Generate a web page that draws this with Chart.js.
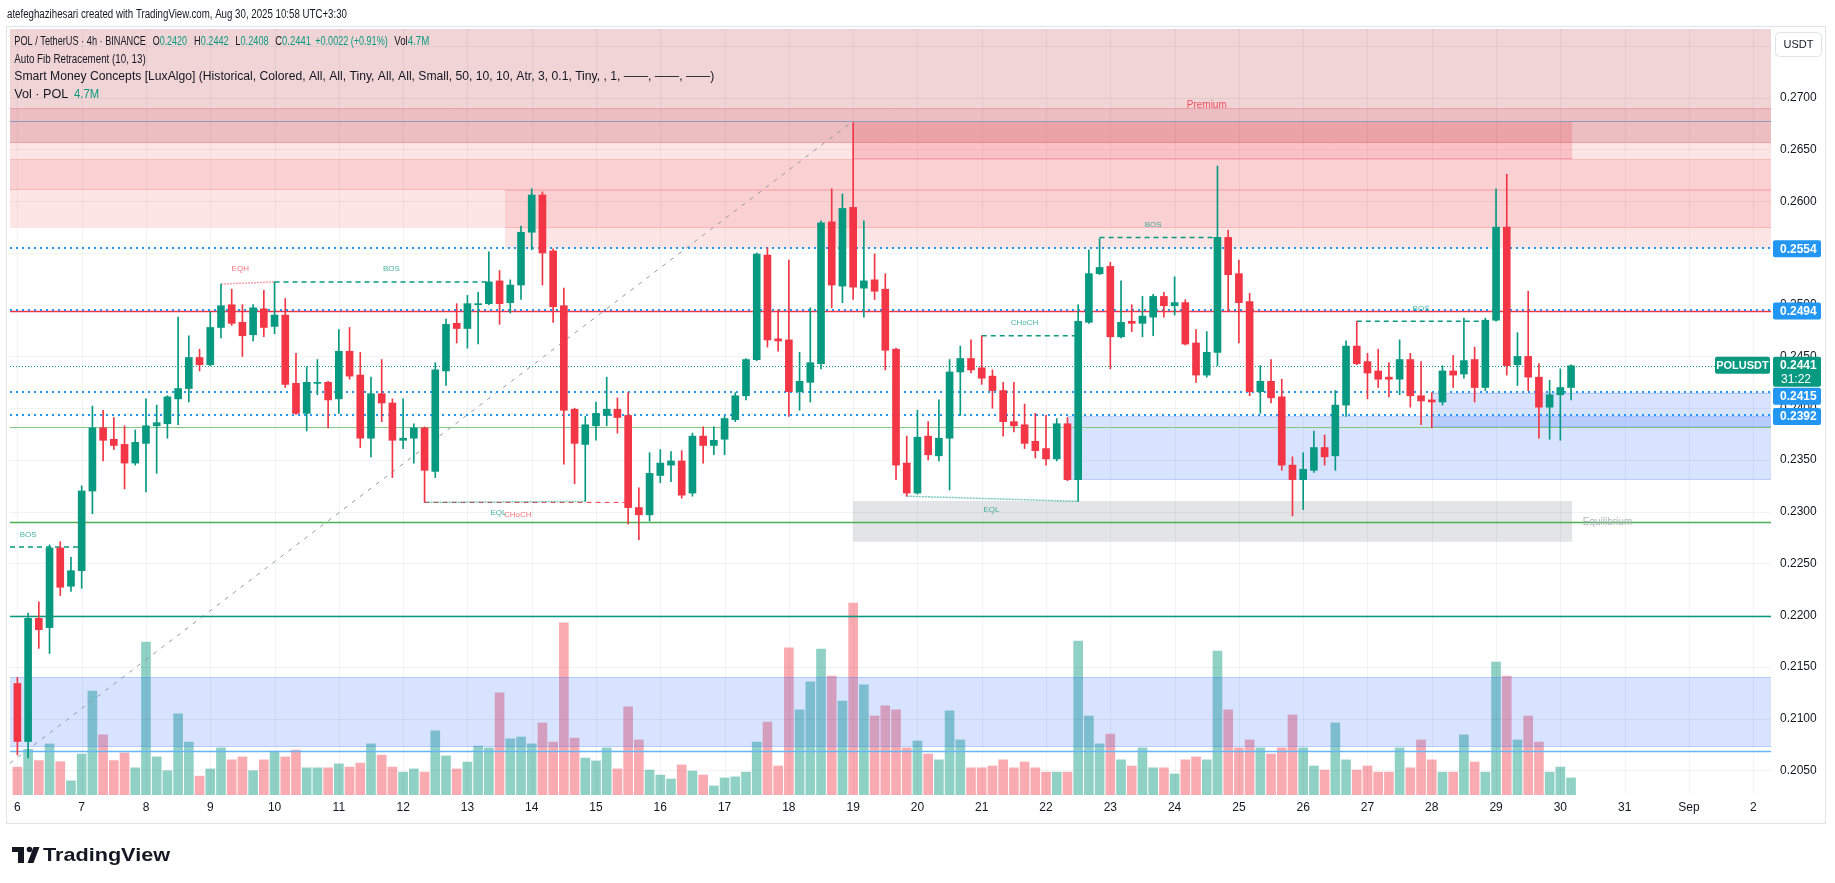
<!DOCTYPE html>
<html>
<head>
<meta charset="utf-8">
<script src="https://cdn.jsdelivr.net/npm/chart.js@4.4.1/dist/chart.umd.min.js"></script>
<style>
  html, body { margin: 0; padding: 0; background: #fff; }
  canvas { display: block; }
</style>
</head>
<body>
<canvas id="chart" width="1835" height="883" style="width:1835px;height:883px"></canvas>
<script>
// POL / TetherUS 4h candles, Aug 6 -> Aug 30
const openPrices = [
  0.2134,0.2078,0.2197,0.2188,0.2265,0.2228,0.2243,0.2320,0.2381,0.2370,
  0.2365,0.2347,0.2366,0.2383,0.2385,0.2409,0.2419,0.2449,0.2442,0.2478,
  0.2500,0.2483,0.2471,0.2496,0.2479,0.2490,0.2424,0.2395,0.2424,0.2425,
  0.2409,0.2455,0.2432,0.2371,0.2414,0.2405,0.2369,0.2371,0.2381,0.2339,
  0.2436,0.2482,0.2477,0.2500,0.2501,0.2523,0.2502,0.2519,0.2570,0.2606,
  0.2552,0.2499,0.2399,0.2365,0.2383,0.2393,0.2399,0.2393,0.2304,0.2297,
  0.2335,0.2345,0.2349,0.2318,0.2373,0.2364,0.2370,0.2389,0.2412,0.2447,
  0.2548,0.2467,0.2466,0.2416,0.2425,0.2443,0.2580,0.2518,0.2594,0.2516,
  0.2524,0.2515,0.2457,0.2347,0.2318,0.2373,0.2354,0.2371,0.2435,0.2448,
  0.2439,0.2431,0.2417,0.2387,0.2384,0.2368,0.2361,0.2351,0.2385,0.2331,
  0.2483,0.2530,0.2537,0.2469,0.2484,0.2482,0.2488,0.2508,0.2499,0.2502,
  0.2463,0.2432,0.2454,0.2565,0.2530,0.2503,0.2416,0.2426,0.2411,0.2345,
  0.2331,0.2340,0.2362,0.2354,0.2403,0.2460,0.2445,0.2436,0.2430,0.2428,
  0.2447,0.2412,0.2408,0.2406,0.2436,0.2433,0.2447,0.2420,0.2485,0.2575,
  0.2442,0.2450,0.2430,0.2401,0.2413,0.2420
];
const highPrices = [
  0.2140,0.2202,0.2213,0.2268,0.2271,0.2256,0.2325,0.2402,0.2398,0.2391,
  0.2383,0.2379,0.2409,0.2403,0.2412,0.2488,0.2470,0.2457,0.2493,0.2520,
  0.2515,0.2500,0.2500,0.2514,0.2522,0.2506,0.2453,0.2440,0.2447,0.2426,
  0.2476,0.2478,0.2454,0.2430,0.2447,0.2409,0.2409,0.2385,0.2382,0.2444,
  0.2486,0.2501,0.2509,0.2512,0.2551,0.2533,0.2524,0.2576,0.2612,0.2609,
  0.2554,0.2516,0.2400,0.2392,0.2406,0.2430,0.2410,0.2415,0.2323,0.2357,
  0.2360,0.2358,0.2359,0.2376,0.2382,0.2382,0.2392,0.2415,0.2448,0.2550,
  0.2555,0.2495,0.2543,0.2454,0.2497,0.2581,0.2612,0.2607,0.2676,0.2581,
  0.2549,0.2530,0.2458,0.2373,0.2398,0.2387,0.2408,0.2447,0.2460,0.2466,
  0.2470,0.2437,0.2425,0.2425,0.2404,0.2395,0.2393,0.2390,0.2391,0.2500,
  0.2553,0.2564,0.2541,0.2523,0.2500,0.2508,0.2510,0.2512,0.2527,0.2505,
  0.2476,0.2474,0.2634,0.2572,0.2543,0.2511,0.2441,0.2447,0.2428,0.2353,
  0.2357,0.2378,0.2374,0.2417,0.2465,0.2484,0.2453,0.2457,0.2444,0.2466,
  0.2453,0.2445,0.2415,0.2441,0.2451,0.2487,0.2459,0.2487,0.2612,0.2626,
  0.2473,0.2513,0.2443,0.2427,0.2438,0.2442
];
const lowPrices = [
  0.2065,0.2062,0.2168,0.2163,0.2219,0.2223,0.2226,0.2298,0.2349,0.2360,
  0.2322,0.2345,0.2319,0.2337,0.2371,0.2384,0.2406,0.2436,0.2441,0.2468,
  0.2480,0.2450,0.2465,0.2469,0.2472,0.2420,0.2394,0.2378,0.2413,0.2381,
  0.2395,0.2428,0.2362,0.2353,0.2387,0.2333,0.2361,0.2347,0.2309,0.2333,
  0.2422,0.2463,0.2458,0.2462,0.2500,0.2481,0.2492,0.2505,0.2553,0.2519,
  0.2483,0.2346,0.2327,0.2310,0.2369,0.2383,0.2376,0.2288,0.2273,0.2291,
  0.2328,0.2329,0.2313,0.2315,0.2347,0.2355,0.2355,0.2387,0.2408,0.2446,
  0.2459,0.2455,0.2392,0.2398,0.2406,0.2438,0.2497,0.2502,0.2505,0.2488,
  0.2505,0.2437,0.2331,0.2315,0.2317,0.2350,0.2349,0.2321,0.2393,0.2434,
  0.2423,0.2400,0.2373,0.2377,0.2361,0.2352,0.2345,0.2349,0.2330,0.2310,
  0.2482,0.2529,0.2438,0.2468,0.2474,0.2469,0.2470,0.2488,0.2490,0.2461,
  0.2425,0.2430,0.2441,0.2494,0.2463,0.2412,0.2395,0.2405,0.2340,0.2296,
  0.2302,0.2338,0.2345,0.2340,0.2392,0.2442,0.2409,0.2420,0.2411,0.2413,
  0.2401,0.2384,0.2381,0.2403,0.2420,0.2429,0.2406,0.2417,0.2484,0.2432,
  0.2422,0.2417,0.2371,0.2370,0.2369,0.2408
];
const closePrices = [
  0.2078,0.2197,0.2186,0.2265,0.2227,0.2243,0.2320,0.2381,0.2369,0.2364,
  0.2347,0.2367,0.2383,0.2386,0.2411,0.2419,0.2449,0.2442,0.2478,0.2499,
  0.2482,0.2470,0.2497,0.2478,0.2490,0.2423,0.2395,0.2425,0.2425,0.2408,
  0.2455,0.2431,0.2371,0.2414,0.2405,0.2369,0.2371,0.2381,0.2340,0.2437,
  0.2481,0.2477,0.2501,0.2501,0.2522,0.2501,0.2519,0.2570,0.2606,0.2550,
  0.2498,0.2398,0.2366,0.2384,0.2395,0.2399,0.2391,0.2304,0.2297,0.2337,
  0.2347,0.2349,0.2316,0.2373,0.2364,0.2369,0.2390,0.2412,0.2447,0.2549,
  0.2466,0.2465,0.2416,0.2426,0.2444,0.2579,0.2519,0.2593,0.2517,0.2523,
  0.2513,0.2456,0.2345,0.2318,0.2372,0.2355,0.2371,0.2435,0.2448,0.2437,
  0.2429,0.2417,0.2387,0.2383,0.2366,0.2359,0.2351,0.2385,0.2331,0.2484,
  0.2530,0.2536,0.2469,0.2483,0.2482,0.2489,0.2508,0.2499,0.2502,0.2462,
  0.2432,0.2454,0.2565,0.2529,0.2502,0.2416,0.2426,0.2410,0.2345,0.2331,
  0.2341,0.2362,0.2353,0.2403,0.2460,0.2443,0.2434,0.2428,0.2428,0.2447,
  0.2412,0.2407,0.2406,0.2436,0.2432,0.2446,0.2420,0.2485,0.2575,0.2441,
  0.2450,0.2430,0.2401,0.2413,0.2420,0.2441
];
// volume in millions of POL
const volumes = [
  7.7,12.6,9.5,14.1,9.2,3.9,11.3,28.7,16.6,9.5,
  11.6,7.5,42.2,10.5,6.7,22.4,14.6,5.2,7.2,13.0,
  9.7,10.5,6.7,9.7,12.1,10.5,12.4,7.5,7.5,7.5,
  8.6,7.7,8.8,14.1,11.0,7.7,6.3,7.2,6.3,17.7,
  10.8,7.2,9.1,13.5,13.0,28.2,15.5,16.0,14.1,19.9,
  14.6,47.5,15.7,10.2,9.4,13.0,7.2,24.3,15.2,6.9,
  5.5,4.4,8.3,6.6,5.5,2.5,4.7,5.0,6.3,14.6,
  20.1,8.0,40.6,23.5,31.2,40.3,32.8,25.9,53.0,30.4,
  21.8,24.6,23.5,13.0,14.9,11.3,9.7,23.2,15.2,7.5,
  7.5,8.0,9.7,7.5,9.1,7.5,6.3,6.3,6.3,42.5,
  21.8,14.1,16.8,9.7,8.0,13.0,7.5,7.5,5.8,9.7,
  10.5,9.7,39.7,23.5,13.0,15.2,13.0,11.3,13.0,22.1,
  13.0,8.0,6.9,19.9,9.7,6.9,8.0,6.3,6.3,13.0,
  7.5,15.2,9.7,6.3,6.3,16.6,9.1,6.3,36.7,32.8,
  15.2,21.8,14.6,6.3,7.7,4.7
];
const dayLabels = ['6','7','8','9','10','11','12','13','14','15','16','17','18','19','20',
  '21','22','23','24','25','26','27','28','29','30','31','Sep','2'];
const candlesPerDay = 6;
const priceTicks = [0.2700,0.2650,0.2600,0.2550,0.2500,0.2450,0.2400,0.2350,0.2300,
  0.2250,0.2200,0.2150,0.2100,0.2050];
const gridPrices = [0.2750].concat(priceTicks);

// indicator levels
const fibLevels = [0.26775, 0.2494, 0.2382, 0.2290, 0.2199, 0.2069];
const fibColors = ['#8D9BBD', '#F23645', '#81C784', '#4CAF50', '#089981', '#64B5F6'];
const markedLevels = [0.2554, 0.2494, 0.2415, 0.2392];
const lastPrice = 0.2441;

const upColor = '#089981', downColor = '#F23645';
const X_MIN = -0.69, X_MAX = 163.66;

const zoneBoxes = [
  { from: X_MIN, to: X_MAX, top: 0.27664, bottom: 0.26900, fill: '#F0D4D6' },
  { from: X_MIN, to: X_MAX, top: 0.26900, bottom: 0.26562, fill: '#ECBEC1', edge: 'rgba(226,110,118,0.35)' },
  { from: X_MIN, to: X_MAX, top: 0.26562, bottom: 0.26405, fill: '#FDE5E6' },
  { from: X_MIN, to: X_MAX, top: 0.26405, bottom: 0.26108, fill: '#FAD0D2', edge: 'rgba(242,54,69,0.18)' },
  { from: X_MIN, to: 45.5, top: 0.26108, bottom: 0.25741, fill: '#FDE5E6' },
  { from: 45.5, to: X_MAX, top: 0.26108, bottom: 0.25741, fill: '#FAD0D2', edge: 'rgba(242,54,69,0.18)' },
  { from: 45.5, to: X_MAX, top: 0.25741, bottom: 0.25543, fill: '#FDE5E6' },
  { from: 78, to: 145.1, top: 0.26775, bottom: 0.26405, fill: 'rgba(242,54,69,0.2)', edge: 'rgba(242,54,69,0.25)' },
  { from: 78, to: 145.1, top: 0.23103, bottom: 0.22710, fill: '#E3E4E6' },
  { from: 98.05, to: X_MAX, top: 0.2392, bottom: 0.2331, fill: 'rgba(41,98,255,0.18)', edge: 'rgba(41,98,255,0.22)' },
  { from: 132, to: X_MAX, top: 0.2415, bottom: 0.2382, fill: 'rgba(41,98,255,0.18)', edge: 'rgba(41,98,255,0.22)' },
  { from: X_MIN, to: X_MAX, top: 0.2140, bottom: 0.2073, fill: 'rgba(41,98,255,0.18)', edge: 'rgba(41,98,255,0.25)' }
];

const structures = [
  { x0: X_MIN, x1: 5.7, p0: 0.2266, p1: 0.2266, kind: 'bos', text: 'BOS', lx: 1.0, dy: -12 },
  { x0: 19, x1: 24, p0: 0.2520, p1: 0.2522, kind: 'eqh', text: 'EQH', lx: 20.8, dy: -15 },
  { x0: 24, x1: 44, p0: 0.2522, p1: 0.2522, kind: 'bos', text: 'BOS', lx: 34.9, dy: -13 },
  { x0: 38, x1: 57, p0: 0.2309, p1: 0.2309, kind: 'choch-bear', text: 'CHoCH', lx: 46.7, dy: 12 },
  { x0: 38, x1: 53, p0: 0.2309, p1: 0.2310, kind: 'eql', text: 'EQL', lx: 44.9, dy: 10 },
  { x0: 90, x1: 99, p0: 0.2470, p1: 0.2470, kind: 'bos', text: 'CHoCH', lx: 94, dy: -13 },
  { x0: 83, x1: 99, p0: 0.2315, p1: 0.2310, kind: 'eql', text: 'EQL', lx: 90.9, dy: 14 },
  { x0: 101, x1: 112, p0: 0.2565, p1: 0.2565, kind: 'bos', text: 'BOS', lx: 106, dy: -13 },
  { x0: 125, x1: 137, p0: 0.2484, p1: 0.2484, kind: 'bos', text: 'BOS', lx: 131, dy: -12 }
];

const candleIdx = openPrices.map((_, i) => i);
const candleColors = candleIdx.map(i => closePrices[i] >= openPrices[i] ? upColor : downColor);
const volumeColors = candleIdx.map(i => closePrices[i] >= openPrices[i] ? 'rgba(8,153,129,0.45)' : 'rgba(242,54,69,0.42)');

const FONT = '"Liberation Sans", Arial, sans-serif';

function fitText(ctx, text, x, y, width, font, color, align) {
  ctx.font = font;
  ctx.fillStyle = color;
  ctx.textBaseline = 'middle';
  ctx.textAlign = 'left';
  const w = ctx.measureText(text).width;
  const k = width ? width / w : 1;
  ctx.save();
  let sx = x;
  if (align === 'center') sx = x - (w * k) / 2;
  ctx.translate(sx, y);
  ctx.scale(k, 1);
  ctx.fillText(text, 0, 0);
  ctx.restore();
}

function pair(ctx, a, b, x, y, width, colA, colB) {
  ctx.font = '12px ' + FONT;
  const wa = ctx.measureText(a).width, wb = ctx.measureText(b).width;
  const k = width / (wa + wb);
  fitText(ctx, a, x, y, wa * k, '12px ' + FONT, colA);
  fitText(ctx, b, x + wa * k, y, wb * k, '12px ' + FONT, colB);
}

function hLine(ctx, x0, x1, y, color, width, dash) {
  ctx.beginPath();
  ctx.strokeStyle = color;
  ctx.lineWidth = width;
  ctx.setLineDash(dash || []);
  ctx.moveTo(x0, y);
  ctx.lineTo(x1, y);
  ctx.stroke();
  ctx.setLineDash([]);
}

function drawZones(chart) {
  const ctx = chart.ctx, a = chart.chartArea;
  const X = v => chart.scales.x.getPixelForValue(v);
  const Y = v => chart.scales.y.getPixelForValue(v);
  ctx.save();
  ctx.beginPath();
  ctx.rect(a.left, a.top, a.right - a.left, a.bottom - a.top);
  ctx.clip();

  zoneBoxes.forEach(b => {
    const x0 = X(b.from), x1 = X(b.to), y0 = Y(b.top), y1 = Y(b.bottom);
    ctx.fillStyle = b.fill;
    ctx.fillRect(x0, y0, x1 - x0, y1 - y0);
    if (b.edge) {
      hLine(ctx, x0, x1, Math.round(y0) + 0.5, b.edge, 1);
      hLine(ctx, x0, x1, Math.round(y1) - 0.5, b.edge, 1);
    }
  });

  // grid
  ctx.strokeStyle = 'rgba(42,46,57,0.06)';
  ctx.lineWidth = 1;
  gridPrices.forEach(p => hLine(ctx, a.left, a.right, Math.round(Y(p)) + 0.5, 'rgba(42,46,57,0.06)', 1));
  dayLabels.forEach((_, d) => {
    const x = Math.round(X(d * candlesPerDay)) + 0.5;
    ctx.beginPath();
    ctx.strokeStyle = 'rgba(42,46,57,0.06)';
    ctx.moveTo(x, a.top);
    ctx.lineTo(x, a.bottom);
    ctx.stroke();
  });

  // fib diagonal
  ctx.beginPath();
  ctx.strokeStyle = '#9598A1';
  ctx.lineWidth = 1;
  ctx.setLineDash([4, 6]);
  ctx.moveTo(X(X_MIN), Y(0.2057));
  ctx.lineTo(X(78), Y(0.26775));
  ctx.stroke();
  ctx.setLineDash([]);

  // fib levels
  fibLevels.forEach((p, i) => {
    hLine(ctx, a.left, a.right, Math.round(Y(p)) + 0.5, fibColors[i], i === 0 || i === 2 ? 1 : 1.5);
  });
  // marked levels (blue dotted)
  markedLevels.forEach(p => hLine(ctx, a.left, a.right, Math.round(Y(p)) - 1, '#2196F3', 2, [2, 4]));
  // last price
  hLine(ctx, a.left, a.right, Math.round(Y(lastPrice)) + 0.5, upColor, 1, [1, 2]);

  // structures
  structures.forEach(s => {
    let color, dash, lw, lc;
    if (s.kind === 'bos') { color = upColor; dash = [5, 4]; lw = 1.5; lc = 'rgba(8,153,129,0.75)'; }
    else if (s.kind === 'eql') { color = 'rgba(8,153,129,0.55)'; dash = [2, 1]; lw = 1.5; lc = 'rgba(8,153,129,0.75)'; }
    else if (s.kind === 'eqh') { color = 'rgba(242,54,69,0.45)'; dash = [2, 1]; lw = 1.5; lc = 'rgba(242,54,69,0.7)'; }
    else { color = downColor; dash = [5, 4]; lw = 1; lc = 'rgba(242,54,69,0.7)'; }
    ctx.beginPath();
    ctx.strokeStyle = color;
    ctx.lineWidth = lw;
    ctx.setLineDash(dash);
    ctx.moveTo(X(s.x0), Y(s.p0));
    ctx.lineTo(X(s.x1), Y(s.p1));
    ctx.stroke();
    ctx.setLineDash([]);
    ctx.font = '8px ' + FONT;
    ctx.fillStyle = lc;
    ctx.textAlign = 'center';
    ctx.textBaseline = 'middle';
    ctx.fillText(s.text, X(s.lx), Y(s.p0) + s.dy);
  });

  ctx.font = '10px ' + FONT;
  ctx.textAlign = 'center';
  ctx.textBaseline = 'middle';
  ctx.fillStyle = 'rgba(242,54,69,0.85)';
  ctx.fillText('Premium', X(111), Y(0.26924));
  ctx.fillStyle = '#B2B5BE';
  ctx.fillText('Equilibrium', X(148.4), Y(0.2290));
  ctx.restore();
}

function drawFrame(chart) {
  const ctx = chart.ctx, a = chart.chartArea;
  const X = v => chart.scales.x.getPixelForValue(v);
  const Y = v => chart.scales.y.getPixelForValue(v);
  ctx.save();

  // frame
  ctx.strokeStyle = '#E0E3EB';
  ctx.lineWidth = 1;
  ctx.strokeRect(6.5, 26.5, 1819, 797);

  // header
  fitText(ctx, 'atefeghazihesari created with TradingView.com, Aug 30, 2025 10:58 UTC+3:30', 7, 15, 340, '12px ' + FONT, '#131722');

  // legend
  const dark = '#131722';
  fitText(ctx, 'POL / TetherUS \u00b7 4h \u00b7 BINANCE', 14.3, 41.7, 131.7, '12px ' + FONT, dark);
  pair(ctx, 'O', '0.2420', 152.7, 41.7, 34.3, dark, upColor);
  pair(ctx, 'H', '0.2442', 194, 41.7, 34.7, dark, upColor);
  pair(ctx, 'L', '0.2408', 235.3, 41.7, 33.4, dark, upColor);
  pair(ctx, 'C', '0.2441', 275.3, 41.7, 35.7, dark, upColor);
  fitText(ctx, '+0.0022 (+0.91%)', 315.3, 41.7, 72.4, '12px ' + FONT, upColor);
  pair(ctx, 'Vol', '4.7M', 394.3, 41.7, 35, dark, upColor);
  fitText(ctx, 'Auto Fib Retracement (10, 13)', 14.3, 59.3, 131.4, '12px ' + FONT, dark);
  fitText(ctx, 'Smart Money Concepts [LuxAlgo] (Historical, Colored, All, All, Tiny, All, All, Small, 50, 10, 10, Atr, 3, 0.1, Tiny, , 1, \u2014\u2014, \u2014\u2014, \u2014\u2014)', 14.3, 76.7, 700, '12px ' + FONT, dark);
  fitText(ctx, 'Vol \u00b7 POL', 14.3, 94.5, 54, '12px ' + FONT, dark);
  fitText(ctx, '4.7M', 74, 94.5, 25, '12px ' + FONT, upColor);

  // price axis ticks
  ctx.font = '12px ' + FONT;
  ctx.fillStyle = '#131722';
  ctx.textAlign = 'left';
  ctx.textBaseline = 'middle';
  priceTicks.forEach(p => ctx.fillText(p.toFixed(4), 1780, Y(p)));

  // marked level labels
  let prevBottom = 0;
  const boxes = markedLevels.slice().sort((u, v) => v - u).map(p => ({ p, y: Y(p) }));
  const lastY = Y(lastPrice);
  boxes.forEach(b => {
    let top = b.y - 8.5;
    if (b.p < lastPrice) top = Math.max(top, lastY - 9 + 31);
    top = Math.max(top, prevBottom + 1.5);
    prevBottom = top + 17;
    ctx.fillStyle = '#2196F3';
    ctx.beginPath();
    ctx.roundRect(1773, top, 48, 17, 2);
    ctx.fill();
    ctx.font = 'bold 12px ' + FONT;
    ctx.fillStyle = '#fff';
    ctx.fillText(b.p.toFixed(4), 1780, top + 9);
  });

  // last price label
  ctx.fillStyle = upColor;
  ctx.beginPath();
  ctx.roundRect(1773, lastY - 9, 48, 30, 2);
  ctx.fill();
  ctx.fillStyle = '#fff';
  ctx.font = 'bold 12px ' + FONT;
  ctx.fillText(lastPrice.toFixed(4), 1780, lastY);
  ctx.font = '12px ' + FONT;
  ctx.fillText('31:22', 1781, lastY + 14);
  ctx.fillStyle = upColor;
  ctx.beginPath();
  ctx.roundRect(1715, lastY - 9, 55, 17, 2);
  ctx.fill();
  ctx.fillStyle = '#fff';
  ctx.font = 'bold 11px ' + FONT;
  ctx.textAlign = 'center';
  ctx.fillText('POLUSDT', 1742.5, lastY);

  // USDT button
  ctx.fillStyle = '#fff';
  ctx.strokeStyle = '#E0E3EB';
  ctx.beginPath();
  ctx.roundRect(1775.5, 32.5, 46, 24, 4);
  ctx.fill();
  ctx.stroke();
  ctx.fillStyle = '#131722';
  ctx.font = '11px ' + FONT;
  ctx.fillText('USDT', 1798.5, 45);

  // time axis
  ctx.font = '12px ' + FONT;
  ctx.textAlign = 'center';
  dayLabels.forEach((t, d) => ctx.fillText(t, X(d * candlesPerDay), 808));

  // TradingView logo
  ctx.fillStyle = '#131722';
  ctx.fillRect(12, 847, 12, 5);
  ctx.fillRect(18, 847, 6, 16);
  ctx.beginPath();
  ctx.arc(29.5, 849.5, 2.8, 0, Math.PI * 2);
  ctx.fill();
  ctx.beginPath();
  ctx.moveTo(33.5, 847);
  ctx.lineTo(39.5, 847);
  ctx.lineTo(33.5, 863);
  ctx.lineTo(27.5, 863);
  ctx.closePath();
  ctx.fill();
  fitText(ctx, 'TradingView', 43, 855.5, 127, 'bold 19px ' + FONT, '#131722');
  ctx.restore();
}

const tvOverlay = {
  id: 'tvOverlay',
  beforeDraw(chart) {
    const ctx = chart.ctx;
    ctx.save();
    ctx.fillStyle = '#fff';
    ctx.fillRect(0, 0, chart.width, chart.height);
    ctx.restore();
  },
  beforeDatasetDraw(chart, args) {
    if (args.index === 1) drawZones(chart);
  },
  afterDraw(chart) {
    drawFrame(chart);
  }
};

new Chart(document.getElementById('chart'), {
  type: 'bar',
  data: {
    datasets: [
      {
        label: 'Vol',
        data: volumes.map((v, i) => ({ x: i, y: v })),
        yAxisID: 'yv',
        backgroundColor: volumeColors,
        barThickness: 9,
        grouped: false,
        order: 3
      },
      {
        label: 'wick',
        data: candleIdx.map(i => ({ x: i, y: [lowPrices[i], highPrices[i]] })),
        yAxisID: 'y',
        backgroundColor: candleColors,
        barThickness: 1,
        grouped: false,
        minBarLength: 1,
        order: 2
      },
      {
        label: 'body',
        data: candleIdx.map(i => ({ x: i, y: [openPrices[i], closePrices[i]] })),
        yAxisID: 'y',
        backgroundColor: candleColors,
        barThickness: 7,
        grouped: false,
        minBarLength: 1,
        order: 1
      }
    ]
  },
  options: {
    responsive: false,
    animation: false,
    devicePixelRatio: 1,
    events: [],
    layout: { padding: { left: 10, right: 64, top: 29, bottom: 88 } },
    plugins: { legend: { display: false }, tooltip: { enabled: false } },
    scales: {
      x: { type: 'linear', min: X_MIN, max: X_MAX, display: false, offset: false },
      y: { type: 'linear', min: 0.202628, max: 0.276638, display: false, beginAtZero: false },
      yv: { type: 'linear', min: 0, max: 211.4, display: false }
    }
  },
  plugins: [tvOverlay]
});
</script>
</body>
</html>
